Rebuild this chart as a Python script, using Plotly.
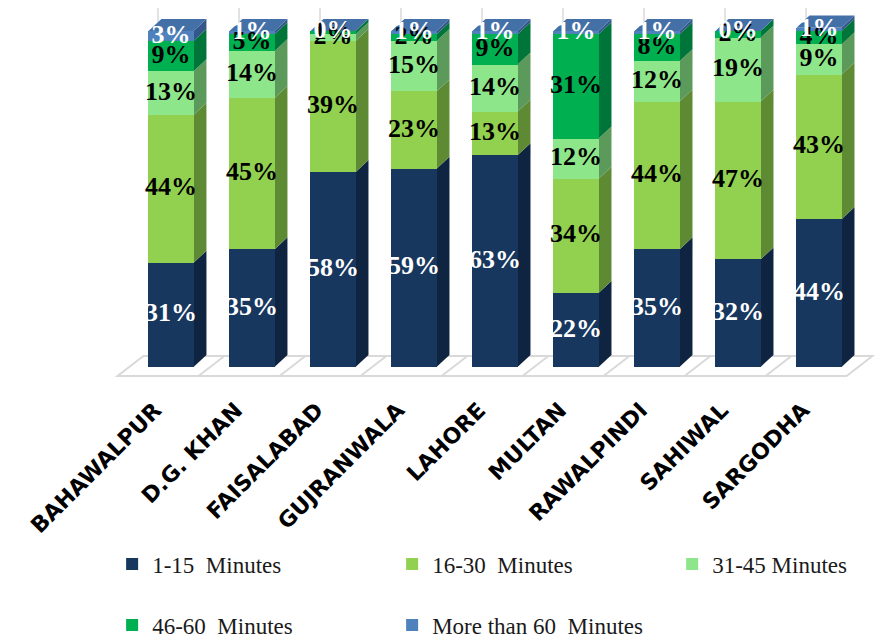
import plotly.graph_objects as go

categories = ["BAHAWALPUR", "D.G. KHAN", "FAISALABAD", "GUJRANWALA", "LAHORE",
              "MULTAN", "RAWALPINDI", "SAHIWAL", "SARGODHA"]
series_names = ["1-15  Minutes", "16-30  Minutes", "31-45 Minutes",
                "46-60  Minutes", "More than 60  Minutes"]
min_1_15 = [31, 35, 58, 59, 63, 22, 35, 32, 44]
min_16_30 = [44, 45, 39, 23, 13, 34, 44, 47, 43]
min_31_45 = [13, 14, 2, 15, 14, 12, 12, 19, 9]
min_46_60 = [9, 5, 1, 2, 9, 31, 8, 2, 4]
min_60_plus = [3, 1, 0, 1, 1, 1, 1, 0, 1]

series = [min_1_15, min_16_30, min_31_45, min_46_60, min_60_plus]
front = ["#17375E", "#92D050", "#8EE68A", "#00B050", "#4F81BD"]
side = ["#0F2440", "#5E8A34", "#5B9A5B", "#00753A", "#34578A"]
top_col = "#4470A8"
label_col = ["white", "black", "black", "black", "white"]

W = 0.556   # bar width (category units)
DX = 0.16   # depth offset x
DY = 3.6    # depth offset y

fig = go.Figure()
x = list(range(len(categories)))
for k, vals in enumerate(series):
    fig.add_trace(go.Bar(
        x=x, y=vals, name=series_names[k], marker_color=front[k],
        marker_line_width=0, width=W, showlegend=True,
        legend="legend" if k < 3 else "legend2", hoverinfo="skip"))

shapes = []
# floor
y_front, y_back = -2.68, 3.27
n = len(categories)
shapes.append(dict(type="path", xref="x", yref="y", layer="below",
                   path=f"M{-0.5-DX},{y_front} L{n-0.5-DX},{y_front} L{n-0.5+DX},{y_back} L{-0.5+DX},{y_back} Z",
                   line=dict(color="#D9D9D9", width=2), fillcolor="white"))
for i in range(n - 1):
    shapes.append(dict(type="line", xref="x", yref="y", layer="below",
                       x0=i + 0.5 - DX, y0=y_front, x1=i + 0.5 + DX, y1=y_back,
                       line=dict(color="#D9D9D9", width=2)))
# back wall vertical lines
for i in range(n):
    shapes.append(dict(type="line", xref="x", yref="y", layer="below",
                       x0=i - DX, y0=y_back, x1=i - DX, y1=110,
                       line=dict(color="#D9D9D9", width=1.5)))

for i in range(n):
    base = 0
    for k, vals in enumerate(series):
        v = vals[i]
        t = base + v
        xr = i + W / 2
        if v > 0:
            shapes.append(dict(type="path", xref="x", yref="y", layer="below",
                               path=f"M{xr},{base} L{xr+DX},{base+DY} L{xr+DX},{t+DY} L{xr},{t} Z",
                               line=dict(width=0), fillcolor=side[k]))
        base = t
    xl = i - W / 2
    xr = i + W / 2
    shapes.append(dict(type="path", xref="x", yref="y", layer="below",
                       path=f"M{xl},{base} L{xl+DX},{base+DY} L{xr+DX},{base+DY} L{xr},{base} Z",
                       line=dict(width=0), fillcolor=top_col))

for k, vals in enumerate(series):
    bases = [sum(series[j][i] for j in range(k)) for i in range(n)]
    fig.add_trace(go.Scatter(
        x=x, y=[b + v / 2 for b, v in zip(bases, vals)], mode="text",
        text=[f"{v}%" for v in vals], showlegend=False, hoverinfo="skip",
        textfont=dict(family="Liberation Serif", size=26, color=label_col[k], weight="bold")))

legend_common = dict(orientation="h", x=0.119, xanchor="left", yanchor="middle",
                     entrywidth=235, entrywidthmode="pixels", traceorder="normal",
                     font=dict(family="Liberation Serif", size=23, color="#1a1a1a"),
                     bgcolor="rgba(0,0,0,0)")

fig.update_layout(
    width=875, height=630, barmode="stack",
    margin=dict(l=0, r=0, t=0, b=258, autoexpand=False),
    paper_bgcolor="white", plot_bgcolor="white",
    shapes=shapes,
    xaxis=dict(range=[-2.012, 8.790], tickmode="array", tickvals=x, ticktext=categories,
               tickangle=-45, showgrid=False, zeroline=False, showline=False, ticks="",
               ticklabelshift=-16, ticklabelstandoff=12,
               tickfont=dict(family="DejaVu Sans", size=22, color="black", weight="bold")),
    yaxis=dict(range=[-3.87, 106.85], visible=False),
    legend=dict(y=-0.495, **legend_common),
    legend2=dict(y=-0.659, **legend_common),
)
fig.write_html("out.html")
